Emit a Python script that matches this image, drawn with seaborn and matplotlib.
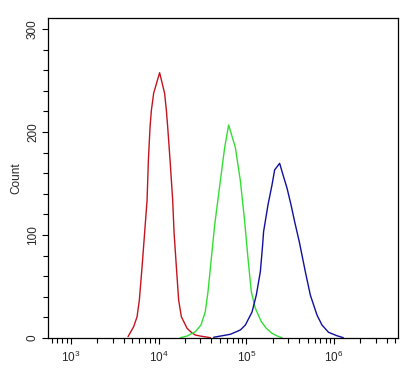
import numpy as np
import pandas as pd
import matplotlib
matplotlib.use("Agg")
import matplotlib.pyplot as plt
from matplotlib.ticker import LogLocator, MultipleLocator, FixedLocator, NullFormatter
import seaborn as sns

# ---- data (log10 intensity, count) ----
red_log10 = [3.651, 3.715, 3.754, 3.780, 3.811, 3.840, 3.868, 3.883, 3.902, 3.917, 3.943,
             4.011, 4.068, 4.088, 4.103, 4.130, 4.160, 4.176, 4.202, 4.228, 4.259, 4.324,
             4.381, 4.418, 4.475, 4.590]
red_count = [1.3, 11, 20.7, 36.9, 69.2, 102, 134, 172.8, 205, 221, 237.6,
             257.6, 237.6, 221, 205, 172.8, 134, 102, 69.2, 36.9, 20.7, 9.4,
             4.9, 2.9, 1.9, 0.3]

green_log10 = [4.247, 4.324, 4.418, 4.483, 4.532, 4.563, 4.601, 4.639, 4.704, 4.753, 4.798,
               4.875, 4.932, 4.981, 5.019, 5.057, 5.103, 5.171, 5.228, 5.293, 5.368, 5.407]
green_count = [0.3, 1.9, 6.1, 12.6, 25.5, 44.9, 77.4, 109.7, 152.7, 184.9, 206.8,
               184.9, 152.7, 113.3, 77.4, 44.9, 28.8, 15.9, 9.4, 4.5, 1.3, 0.3]

blue_log10 = [4.627, 4.818, 4.932, 4.989, 5.065, 5.114, 5.160, 5.186, 5.197, 5.247, 5.293,
              5.323, 5.380, 5.418, 5.464, 5.510, 5.551, 5.604, 5.673, 5.730, 5.806, 5.863,
              5.938, 6.034, 6.106]
blue_count = [0.7, 3.6, 7.8, 12.6, 25.2, 41.7, 64.4, 90.3, 103.3, 129.2, 148.6,
              163.2, 169.6, 158.5, 145.6, 129.2, 113.0, 93.5, 64.4, 41.7, 22.3, 12.6,
              5.5, 2.2, 0.3]

series_names = ["red", "green", "blue"]
series_colors = {"red": "#c4141e", "green": "#33dd33", "blue": "#10109c"}
y_ticks = [0, 100, 200, 300]
x_major_ticks = [1e3, 1e4, 1e5, 1e6]
x_tick_labels = ["$10^{3}$", "$10^{4}$", "$10^{5}$", "$10^{6}$"]
y_label = "Count"

frames = []
for name, lg, ct in [("red", red_log10, red_count),
                     ("green", green_log10, green_count),
                     ("blue", blue_log10, blue_count)]:
    frames.append(pd.DataFrame({"intensity": 10 ** np.array(lg), "count": ct,
                                "series": name, "order": np.arange(len(lg))}))
df = pd.concat(frames, ignore_index=True)

sns.set_style("white")
plt.rcParams["font.family"] = ["Liberation Sans", "DejaVu Sans"]
plt.rcParams["mathtext.default"] = "regular"

fig = plt.figure(figsize=(4.19, 3.74), dpi=100)
ax = fig.add_axes([48 / 419, 36 / 374, 350 / 419, 320 / 374])

for name in series_names:
    sub = df[df["series"] == name]
    sns.lineplot(data=sub, x="intensity", y="count", color=series_colors[name],
                 linewidth=1.0, sort=False, estimator=None, ax=ax, legend=False)

ax.set_xscale("log")
ax.set_xlim(10 ** 2.738, 10 ** 6.73)
ax.set_ylim(0, 310.7)

ax.xaxis.set_major_locator(FixedLocator(x_major_ticks))
ax.set_xticklabels(x_tick_labels)
ax.xaxis.set_minor_locator(LogLocator(base=10, subs=np.arange(2, 10), numticks=20))
ax.xaxis.set_minor_formatter(NullFormatter())

ax.yaxis.set_major_locator(FixedLocator(y_ticks))
ax.yaxis.set_minor_locator(MultipleLocator(20))
ax.set_yticklabels([str(v) for v in y_ticks], rotation=90, va="center")

ax.tick_params(axis="both", which="major", direction="out", length=4.5, width=0.8,
               color="black", labelsize=8.5, bottom=True, left=True, pad=2)
ax.tick_params(axis="both", which="minor", direction="out", length=3.5, width=0.8,
               color="black", bottom=True, left=True)
ax.tick_params(axis="x", which="major", pad=4)

for s in ax.spines.values():
    s.set_visible(True)
    s.set_color("black")
    s.set_linewidth(0.9)

ax.set_xlabel("")
ax.set_ylabel(y_label, fontsize=8.5, labelpad=3)
ax.grid(False)

fig.savefig("out.png", dpi=100, facecolor="white")
